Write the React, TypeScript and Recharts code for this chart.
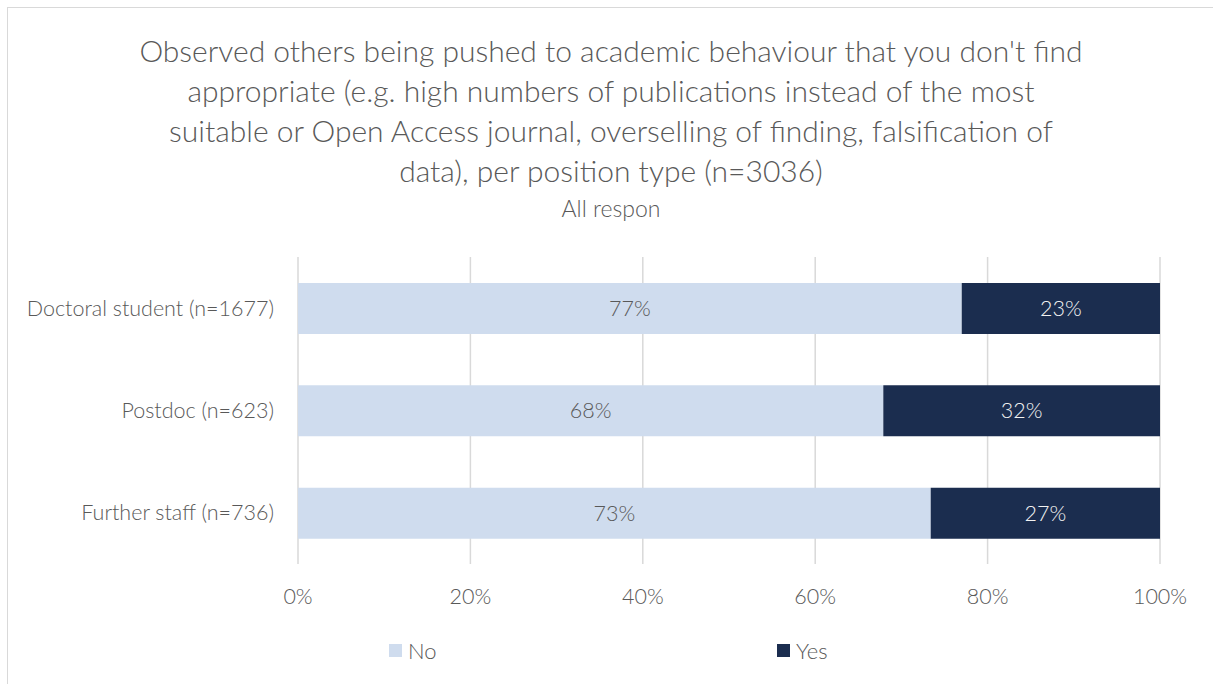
import { BarChart, Bar, XAxis, YAxis, CartesianGrid, LabelList } from 'recharts';

const categories = ['Doctoral student (n=1677)', 'Postdoc (n=623)', 'Further staff (n=736)'];
const noValues = [77.0, 67.9, 73.4];
const yesValues = [23.0, 32.1, 26.6];
const xTicks = [0, 20, 40, 60, 80, 100];

const titleLines = [
  "Observed others being pushed to academic behaviour that you don't find",
  'appropriate (e.g. high numbers of publications instead of the most',
  'suitable or Open Access journal, overselling of finding, falsification of',
  'data), per position type (n=3036)',
];
const subtitle = 'All respon';

const NO_COLOR = '#cfdcee';
const YES_COLOR = '#1b2d4f';
const TEXT = '#595959';
const FONT = 'Lato, "Open Sans", sans-serif';
const AXIS_SIZE = 21.5;

const data = categories.map((name, i) => ({ name, no: noValues[i], yes: yesValues[i] }));

const pct = (v: any) => `${Math.round(Number(v))}%`;

export default function App() {
  return (
    <div style={{ position: 'absolute', left: 0, top: 0, width: 1213, height: 684, background: '#fff', overflow: 'hidden', fontFamily: FONT }}>
      {/* outer frame, cut by the window */}
      <div style={{ position: 'absolute', left: 7, top: 7, width: 1220, height: 700, border: '1px solid #d9d9d9' }} />

      <div style={{ position: 'absolute', left: 0, top: 30, width: 1222, textAlign: 'center', color: TEXT, fontSize: 30, fontWeight: 300, lineHeight: '40px' }}>
        {titleLines.map((l, i) => (
          <div key={i}>{l}</div>
        ))}
        <div style={{ fontSize: 23, lineHeight: '36px' }}>{subtitle}</div>
      </div>

      <div style={{ position: 'absolute', left: 0, top: 0 }}>
        <BarChart
          width={1213}
          height={684}
          layout="vertical"
          data={data}
          margin={{ top: 257, right: 53, bottom: 70, left: 0 }}
          barSize={51}
        >
          <CartesianGrid horizontal={false} stroke="#d9d9d9" strokeWidth={1.5} />
          <XAxis
            type="number"
            domain={[0, 100]}
            ticks={xTicks}
            tickFormatter={(v) => `${v}%`}
            axisLine={false}
            tickLine={false}
            tickSize={0}
            tickMargin={25}
            height={50}
            tick={{ fill: TEXT, fontSize: AXIS_SIZE, fontWeight: 300, fontFamily: FONT }}
          />
          <YAxis
            type="category"
            dataKey="name"
            width={298}
            axisLine={false}
            tickLine={false}
            tickSize={0}
            tickMargin={24}
            tick={{ fill: TEXT, fontSize: AXIS_SIZE, fontWeight: 300, fontFamily: FONT }}
          />
          <Bar dataKey="no" stackId="a" fill={NO_COLOR} isAnimationActive={false}>
            <LabelList dataKey="no" position="center" formatter={pct} fill={TEXT} fontSize={AXIS_SIZE} fontWeight={300} fontFamily={FONT} />
          </Bar>
          <Bar dataKey="yes" stackId="a" fill={YES_COLOR} isAnimationActive={false}>
            <LabelList dataKey="yes" position="center" formatter={pct} fill="#f2f2f2" fontSize={AXIS_SIZE} fontWeight={300} fontFamily={FONT} />
          </Bar>
        </BarChart>
      </div>

      {/* legend */}
      <div style={{ position: 'absolute', top: 637, left: 389, display: 'flex', alignItems: 'center', color: TEXT, fontSize: 22, fontWeight: 300 }}>
        <span style={{ width: 13, height: 13, background: NO_COLOR, marginRight: 6 }} />
        No
      </div>
      <div style={{ position: 'absolute', top: 637, left: 777, display: 'flex', alignItems: 'center', color: TEXT, fontSize: 22, fontWeight: 300 }}>
        <span style={{ width: 13, height: 13, background: YES_COLOR, marginRight: 6 }} />
        Yes
      </div>
    </div>
  );
}
